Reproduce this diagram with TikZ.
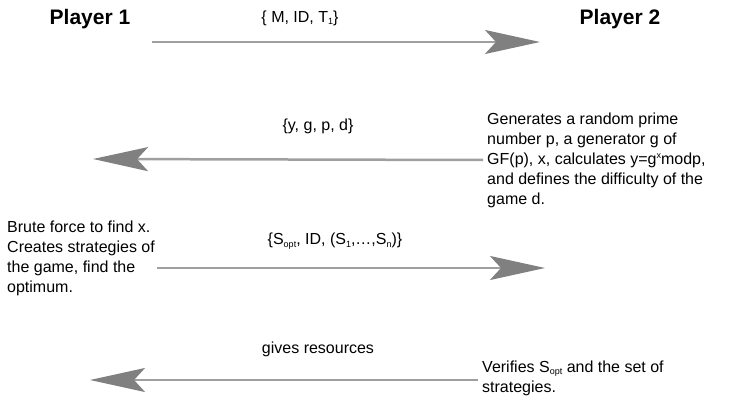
\documentclass[tikz,border=0pt]{standalone}
\usepackage{fontspec}
\setmainfont{Liberation Sans}
\usetikzlibrary{arrows.meta,positioning}
\newcommand{\lowtxt}[1]{\raisebox{-2.5pt}{\fontsize{9}{9}\selectfont #1}}
\newcommand{\hightxt}[1]{\raisebox{6pt}{\fontsize{9}{9}\selectfont #1}}
\begin{document}
\begin{tikzpicture}[x=1pt, y=-1pt,
    player/.style={font=\fontsize{21}{24}\selectfont\bfseries, inner sep=0pt},
    msg/.style={font=\fontsize{16}{20}\selectfont, inner sep=0pt},
    note/.style={font=\fontsize{16}{20}\selectfont, align=left, inner xsep=4pt, inner ysep=0pt},
    flow/.style={draw=gray!75, line width=2.5pt,
        -{Stealth[length=55pt, width=24pt, inset=11pt, color=gray]}}
]
    \useasboundingbox (0,0) rectangle (730,401);
    \node [player] (p1) at (90,19) {Player 1};
    \node [player] (p2) at (620,19) {Player 2};

    % M, ID, T1
    \coordinate (s1) at (152,42);
    \coordinate (e1) at (540,42);
    \node [msg] (m1) at (300,18) {\{ M, ID, T\lowtxt{1}\}};
    \draw [flow] (s1) -- (e1);

    % y, g, p, d
    \node [note, anchor=west] (gen) at (483,160) {Generates a random prime\\
        number p, a generator g of\\
        GF(p), x, calculates y=g\hightxt{x}modp,\\
        and defines the difficulty of the\\
        game d.};
    \coordinate (e2) at (93,159);
    \node [msg] (m2) at (318,126) {\{y, g, p, d\}};
    \draw [flow] (gen.west) -- (e2);

    % strategies
    \node [note, anchor=west, inner xsep=0pt] (brute) at (7,258) {Brute force to find x.\\
        Creates strategies of\\
        the game, find the\\
        optimum.};
    \coordinate (s3) at (157,268);
    \coordinate (e3) at (545,268);
    \node [msg] (m3) at (335,241) {\{S\lowtxt{opt}, ID, (S\lowtxt{1},\dots,S\lowtxt{n})\}};
    \draw [flow] (s3) -- (e3);

    % resources
    \node [note, anchor=west] (verify) at (478,378) {Verifies S\lowtxt{opt} and the set of\\
        strategies.};
    \coordinate (e4) at (90,380);
    \node [msg] (m4) at (318,349) {gives resources};
    \draw [flow] (verify.west |- e4) -- (e4);
\end{tikzpicture}
\end{document}
